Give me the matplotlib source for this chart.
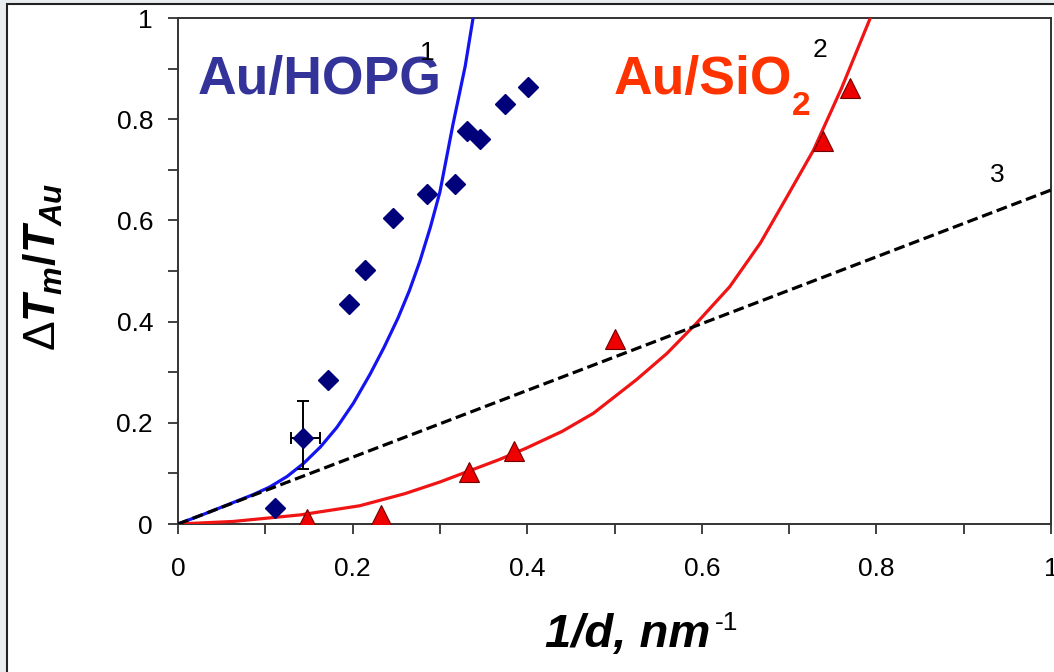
import numpy as np
import matplotlib
matplotlib.use("Agg")
import matplotlib.pyplot as plt
from matplotlib.patches import Rectangle
from matplotlib.ticker import MultipleLocator, FixedLocator

plt.rcParams["font.family"] = ["Liberation Sans", "DejaVu Sans"]
plt.rcParams["mathtext.fontset"] = "custom"
plt.rcParams["mathtext.rm"] = "Liberation Sans:bold"
plt.rcParams["mathtext.it"] = "Liberation Sans:bold:italic"
plt.rcParams["mathtext.bf"] = "Liberation Sans:bold"
plt.rcParams["mathtext.sf"] = "Liberation Sans"

# Au/HOPG measurements (diamonds)
hopg_x = [0.111, 0.143, 0.172, 0.196, 0.214, 0.246, 0.285, 0.317, 0.331, 0.346, 0.375, 0.401]
hopg_y = [0.032, 0.169, 0.285, 0.435, 0.501, 0.604, 0.652, 0.672, 0.777, 0.760, 0.831, 0.864]
# error bar on one HOPG point
err_x, err_y = 0.143, 0.169
err_xlo, err_xhi = 0.129, 0.163
err_ylo, err_yhi = 0.109, 0.244

# Au/SiO2 measurements (triangles)
sio2_x = [0.148, 0.233, 0.333, 0.385, 0.500, 0.739, 0.770]
sio2_y = [0.010, 0.018, 0.103, 0.144, 0.365, 0.757, 0.861]

# curve 1 (HOPG model)
c1_x = [0.0, 0.029, 0.067, 0.086, 0.105, 0.125, 0.144, 0.163, 0.182, 0.201, 0.220, 0.236,
        0.252, 0.265, 0.277, 0.289, 0.300, 0.315, 0.329, 0.338]
c1_y = [0.0, 0.019, 0.045, 0.058, 0.073, 0.094, 0.120, 0.152, 0.191, 0.239, 0.296, 0.349,
        0.407, 0.461, 0.519, 0.586, 0.656, 0.790, 0.905, 1.0]

# curve 2 (SiO2 model)
c2_x = [0.0, 0.063, 0.140, 0.208, 0.260, 0.300, 0.369, 0.399, 0.440, 0.476, 0.525,
        0.560, 0.594, 0.632, 0.667, 0.697, 0.728, 0.760, 0.793]
c2_y = [0.0, 0.005, 0.018, 0.036, 0.060, 0.083, 0.128, 0.150, 0.183, 0.219, 0.285,
        0.337, 0.397, 0.469, 0.555, 0.645, 0.739, 0.861, 1.0]

# curve 3 (linear)
c3_x = [0.0, 1.0]
c3_y = [0.0, 0.66]

ticks = [0, 0.2, 0.4, 0.6, 0.8, 1.0]
tick_labels = ["0", "0.2", "0.4", "0.6", "0.8", "1"]

fig = plt.figure(figsize=(10.54, 6.72), dpi=100, facecolor="#e9edf0")
# panel frame behind everything
fig.patches.append(Rectangle((7 / 1054, -0.01), 1.1, 1 - 4 / 672 + 0.01,
                             transform=fig.transFigure, facecolor="white",
                             edgecolor="#222222", linewidth=1.5, zorder=-10))

ax = fig.add_axes([178 / 1054, 148 / 672, 873 / 1054, 506 / 672])
ax.set_zorder(1)
ax.set_facecolor("white")
ax.set_xlim(0, 1)
ax.set_ylim(0, 1)

ax.plot(c3_x, c3_y, color="black", lw=2.3, ls=(0, (3.4, 1.5)), zorder=3.5)
ax.plot(c1_x, c1_y, color="#1414f0", lw=2.3, zorder=3, solid_joinstyle="round")
ax.plot(c2_x, c2_y, color="#f01414", lw=2.3, zorder=3, solid_joinstyle="round")

ax.errorbar([err_x], [err_y],
            xerr=[[err_x - err_xlo], [err_xhi - err_x]],
            yerr=[[err_y - err_ylo], [err_yhi - err_y]],
            fmt="none", ecolor="black", elinewidth=1.4, capsize=4.5, capthick=1.4, zorder=4)
ax.plot(hopg_x, hopg_y, ls="none", marker="D", ms=10, color="#00007a", zorder=5)
ax.plot(sio2_x, sio2_y, ls="none", marker="^", ms=14, markerfacecolor="#ee0000",
        markeredgecolor="#700000", markeredgewidth=0.8, zorder=5)

ax.text(0.022, 0.850, "Au/HOPG", color="#333399", fontsize=38.5, fontweight="bold", va="baseline")
ax.text(0.499, 0.850, "Au/SiO", color="#ff3300", fontsize=38.5, fontweight="bold", va="baseline")
ax.text(0.703, 0.808, "2", color="#ff3300", fontsize=24, fontweight="bold", va="baseline")
ax.text(0.286, 0.931, "1", fontsize=19, ha="center", va="center")
ax.text(0.735, 0.937, "2", fontsize=19, ha="center", va="center")
ax.text(0.938, 0.690, "3", fontsize=19, ha="center", va="center")

ax.xaxis.set_major_locator(FixedLocator(ticks))
ax.xaxis.set_minor_locator(MultipleLocator(0.1))
ax.yaxis.set_major_locator(FixedLocator(ticks))
ax.yaxis.set_minor_locator(MultipleLocator(0.1))
ax.set_xticklabels(tick_labels)
ax.set_yticklabels(tick_labels)
ax.tick_params(which="both", direction="out", length=7, width=1.3, color="#333333")
ax.tick_params(axis="x", which="major", labelsize=19, pad=17)
ax.tick_params(axis="y", which="major", labelsize=19, pad=11)
for s in ax.spines.values():
    s.set_linewidth(1.4)
    s.set_color("#333333")

# x label: bold italic text with a regular superscript
fig.text(710 / 1054, 1 - 647 / 672, "1/d, nm", fontsize=34, fontweight="bold",
         fontstyle="italic", ha="right", va="baseline")
fig.text(715 / 1054, 1 - 630 / 672, "-1", fontsize=19, ha="left", va="baseline")
fig.text(0.041, 1 - 267 / 672, r"$\mathsf{\Delta}T_m/T_{Au}$", fontsize=32, rotation=90,
         ha="center", va="center")

fig.savefig("out.png", dpi=100, facecolor=fig.get_facecolor())
